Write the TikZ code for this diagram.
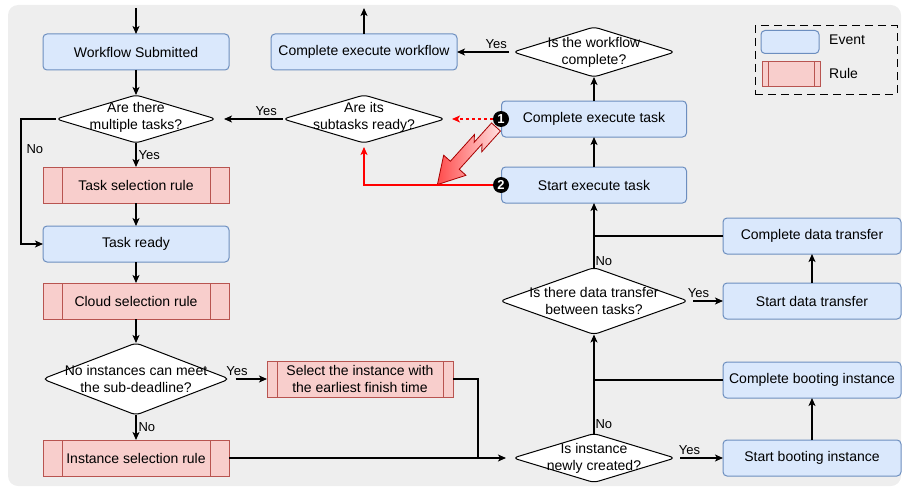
\documentclass[tikz,border=0pt]{standalone}
\usepackage{fontspec}
\setmainfont{Liberation Sans}
\usetikzlibrary{arrows.meta,shapes.geometric,calc}
\definecolor{evfill}{HTML}{DAE8FC}
\definecolor{evline}{HTML}{6C8EBF}
\definecolor{rufill}{HTML}{F8CECC}
\definecolor{ruline}{HTML}{B85450}
\definecolor{bggray}{HTML}{EEEEEE}
\begin{document}
\begin{tikzpicture}[x=1pt,y=-1pt,
  font=\fontsize{14}{16.8}\selectfont,
  event/.style={draw=evline, fill=evfill, rounded corners=4pt, line width=1pt, minimum height=36pt, inner sep=0pt, outer sep=0pt},
  rulebox/.style={draw=ruline, fill=rufill, line width=1pt, minimum height=36pt, inner sep=0pt, outer sep=0pt},
  dia/.style={draw=black, fill=white, diamond, line width=1pt, rounded corners=5pt, inner sep=0pt, outer sep=0pt},
  dtext/.style={align=center, inner sep=0pt},
  lbl/.style={font=\fontsize{13}{15}\selectfont, inner sep=1pt},
  tip/.style={-{Stealth[length=8pt,width=7pt,inset=2pt]}},
  conn/.style={line width=1.2pt, tip},
  seg/.style={line width=1.2pt},
  inner/.style={draw=ruline, line width=1pt},
  num/.style={circle, fill=black, inner sep=0pt, minimum size=16pt, text=white, font=\bfseries\fontsize{13}{13}\selectfont},
]
\useasboundingbox (0,0) rectangle (902,487);
\fill[bggray, rounded corners=10pt] (8,5) rectangle (901,486);

% left column
\node[event, minimum width=186pt] (ws) at (136,52) {Workflow Submitted};
\node[dia, minimum width=160pt, minimum height=48pt] (d1) at (136,119) {};
\node[dtext] (d1t) at (136,117) {Are there\\multiple tasks?};
\node[rulebox, minimum width=186pt] (tsr) at (136,185) {Task selection rule};
\draw[inner] ([xshift=19pt]tsr.north west) -- ([xshift=19pt]tsr.south west) ([xshift=-19pt]tsr.north east) -- ([xshift=-19pt]tsr.south east);
\node[event, minimum width=186pt] (tr) at (136,244) {Task ready};
\node[rulebox, minimum width=186pt] (csr) at (136,301) {Cloud selection rule};
\draw[inner] ([xshift=19pt]csr.north west) -- ([xshift=19pt]csr.south west) ([xshift=-19pt]csr.north east) -- ([xshift=-19pt]csr.south east);
\node[dia, minimum width=187pt, minimum height=72pt] (d2) at (136,379) {};
\node[dtext] (d2t) at (136,379) {No instances can meet\\the sub-deadline?};
\node[rulebox, minimum width=186pt] (isr) at (136,458) {Instance selection rule};
\draw[inner] ([xshift=19pt]isr.north west) -- ([xshift=19pt]isr.south west) ([xshift=-19pt]isr.north east) -- ([xshift=-19pt]isr.south east);
\node[rulebox, minimum width=186pt, align=center] (sel) at (360,379) {Select the instance with\\the earliest finish time};
\draw[inner] ([xshift=10pt]sel.north west) -- ([xshift=10pt]sel.south west) ([xshift=-10pt]sel.north east) -- ([xshift=-10pt]sel.south east);

% middle / right
\node[event, minimum width=186pt] (cew) at (364,52) {Complete execute workflow};
\node[dia, minimum width=162pt, minimum height=48pt] (d6) at (364,119) {};
\node[dtext] (d6t) at (364,117) {Are its\\subtasks ready?};
\node[dia, minimum width=162pt, minimum height=50pt] (d5) at (594,52) {};
\node[dtext] (d5t) at (594,52) {Is the workflow\\complete?};
\node[event, minimum width=185pt] (cet) at (594,119) {Complete execute task};
\node[event, minimum width=185pt] (set) at (594,185) {Start execute task};
\node[dia, minimum width=188pt, minimum height=67pt] (d4) at (594,301) {};
\node[dtext] (d4t) at (594,301) {Is there data transfer\\between tasks?};
\node[dia, minimum width=162pt, minimum height=49pt] (d3) at (594,458) {};
\node[dtext] (d3t) at (594,458) {Is instance\\newly created?};
\node[event, minimum width=178pt] (cdt) at (812,236) {Complete data transfer};
\node[event, minimum width=178pt] (sdt) at (812,301) {Start data transfer};
\node[event, minimum width=178pt] (cbi) at (812,380) {Complete booting instance};
\node[event, minimum width=178pt] (sbi) at (812,458) {Start booting instance};

% legend
\node[draw, line width=1pt, dash pattern=on 8pt off 5pt, minimum width=142pt, minimum height=68pt, inner sep=0pt] (leg) at (826,60) {};
\node[event, minimum width=58pt, minimum height=23pt] (lev) at (790,42) {};
\node[rulebox, minimum width=58pt, minimum height=24pt] (lru) at (791,74) {};
\draw[inner] ([xshift=6pt]lru.north west) -- ([xshift=6pt]lru.south west) ([xshift=-6pt]lru.north east) -- ([xshift=-6pt]lru.south east);
\node[anchor=west, inner sep=0pt] (levt) at (829,40) {Event};
\node[anchor=west, inner sep=0pt] (lrut) at (829,73) {Rule};

% black connectors
\coordinate (top1) at (136,8);
\coordinate (top2) at (364,8);
\draw[conn] (top1) -- (ws);
\draw[conn] (ws) -- (d1);
\draw[conn] (d1) -- node[lbl, right, xshift=1pt]{Yes} (tsr);
\draw[conn] (d1.west) -- ++(-35,0) |- node[lbl, pos=0.12, right, xshift=4pt]{No} (tr.west);
\draw[conn] (tsr) -- (tr);
\draw[conn] (tr) -- (csr);
\draw[conn] (csr) -- (d2);
\draw[conn] (d2) -- node[lbl, right, xshift=1pt]{No} (isr);
\draw[conn, shorten <=6pt] (d2.east) -- node[lbl, above, pos=0.2, yshift=2pt]{Yes} (sel.west);
\draw[conn, shorten >=7pt] (isr.east) -- (d3.west);
\coordinate (j1) at (478,458);
\draw[seg] (sel.east) -| (j1);
\draw[conn, shorten <=5pt] (d3.east) -- node[lbl, above, pos=0.3, yshift=2pt]{Yes} (sbi.west);
\draw[conn] (sbi) -- (cbi);
\coordinate (j2) at (594,380);
\draw[seg] (cbi.west) -- (j2);
\draw[conn] (d3.north) -- node[lbl, right, pos=0.1]{No} (d4.south);
\draw[conn, shorten <=5pt] (d4.east) -- node[lbl, above, pos=0.3, yshift=2pt]{Yes} (sdt.west);
\draw[conn, line width=2pt] (sdt) -- (cdt);
\coordinate (j3) at (594,236);
\draw[seg] (cdt.west) -- (j3);
\draw[conn] (d4.north) -- node[lbl, right, pos=0.1]{No} (set.south);
\draw[conn, line width=2pt] (set) -- (cet);
\draw[conn] (cet) -- (d5);
\draw[conn, shorten <=4pt] (d5.west) -- node[lbl, above, pos=0.3, yshift=2pt]{Yes} (cew.east);
\draw[conn] (cew) -- (top2);
\draw[conn, shorten >=8pt] (d6.west) -- node[lbl, above, pos=0.25, yshift=2pt]{Yes} (d1.east);

% lightning arrow
\begin{scope}[shift={(496,127)}, rotate=228]
\shade[left color=red!70, right color=red!12, draw=red!65!black, line width=0.8pt, line join=miter]
  (0,6) -- (26,6) -- (20,11) -- (56,11) -- (56,20) -- (82,5) -- (56,-10) -- (56,-1) -- (22,-1) -- (28,-6) -- (0,-6) -- cycle;
\end{scope}

% numbered markers
\node[num] (c1) at (501,119) {1};
\node[num] (c2) at (501,185) {2};
\draw[red, dashed, line width=1.2pt, tip, shorten >=7pt] (c1) -- (d6.east);
\draw[red, line width=1.2pt, tip, shorten >=4pt] (c2) -| (d6.south);
\end{tikzpicture}
\end{document}
